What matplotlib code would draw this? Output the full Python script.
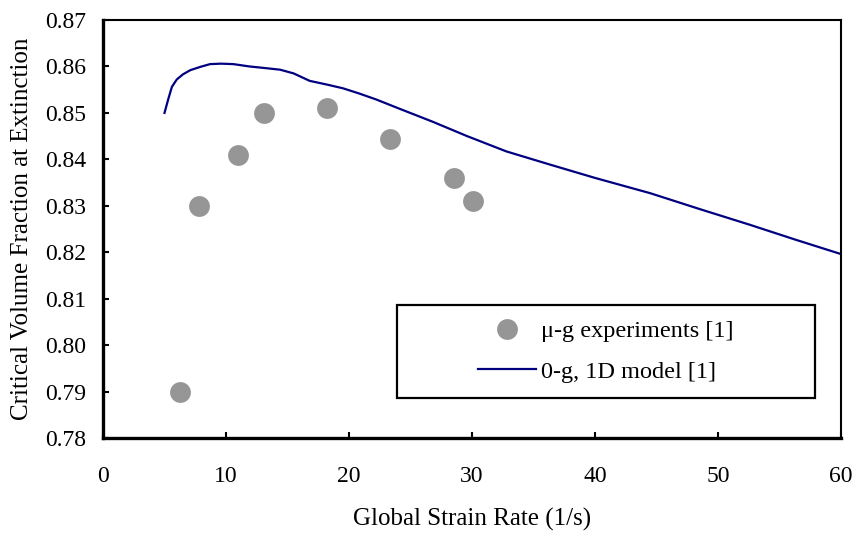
import matplotlib
matplotlib.use("Agg")
import matplotlib.pyplot as plt
from matplotlib.patches import Rectangle

# micro-gravity experiments
exp_rate = [6.3, 7.8, 11.0, 13.1, 18.2, 23.3, 28.5, 30.1]
exp_frac = [0.790, 0.830, 0.841, 0.850, 0.851, 0.8443, 0.836, 0.831]

# 0-g, 1D model curve
model_rate = [5.0, 5.3, 5.6, 6.0, 6.5, 7.1, 7.9, 8.7, 9.6, 10.6, 11.9, 13.0,
              14.4, 15.5, 16.8, 18.2, 19.5, 20.8, 22.2, 24.1, 26.8, 29.6,
              32.8, 36.3, 40.0, 44.5, 48.5, 52.6, 56.3, 60.0]
model_frac = [0.850, 0.8529, 0.8556, 0.8572, 0.8583, 0.8592, 0.8599, 0.8605,
              0.8606, 0.8605, 0.8600, 0.8597, 0.8593, 0.8585, 0.8569, 0.8561,
              0.8553, 0.8542, 0.8529, 0.8509, 0.8481, 0.8450, 0.8417, 0.8389,
              0.8360, 0.8327, 0.8293, 0.8259, 0.8227, 0.8196]

plt.rcParams['font.family'] = ['Liberation Serif', 'DejaVu Serif']
plt.rcParams['font.size'] = 17

fig = plt.figure(figsize=(8.59, 5.34), dpi=100)
ax = fig.add_axes([103/859, 1 - 438/534, 738/859, 418/534])

ax.plot(exp_rate, exp_frac, 'o', color='#969696', markersize=15,
        markeredgewidth=0, label='\u03bc-g experiments [1]', zorder=3)
ax.plot(model_rate, model_frac, '-', color='#000080', linewidth=1.6,
        label='0-g, 1D model [1]', zorder=2)

ax.set_xlim(0, 60)
ax.set_ylim(0.78, 0.87)
ax.set_xticks(range(0, 61, 10))
ax.set_yticks([0.78 + 0.01 * i for i in range(10)])
ax.set_yticklabels(['%.2f' % (0.78 + 0.01 * i) for i in range(10)])

for s in ['left', 'bottom']:
    ax.spines[s].set_linewidth(2.4)
for s in ['top', 'right']:
    ax.spines[s].set_linewidth(1.5)

ax.tick_params(axis='both', direction='in', length=4.5, width=1.5,
               labelsize=17)
ax.tick_params(axis='x', pad=20)
ax.tick_params(axis='y', pad=12)

ax.set_xlabel('Global Strain Rate (1/s)', fontsize=18, labelpad=15)
ax.set_ylabel('Critical Volume Fraction at Extinction', fontsize=18,
              labelpad=9)

# legend box
box = Rectangle((0.398, 0.0957), 0.567, 0.222, transform=ax.transAxes,
                facecolor='white', edgecolor='black', linewidth=1.6,
                zorder=4)
ax.add_patch(box)
leg = ax.legend(loc='center', bbox_to_anchor=(0.6815, 0.2067),
                bbox_transform=ax.transAxes, frameon=False, fontsize=17.5,
                handlelength=2.4, handletextpad=0.2, labelspacing=0.75,
                borderpad=0)
leg.set_zorder(5)

fig.savefig('out.png', dpi=100)
